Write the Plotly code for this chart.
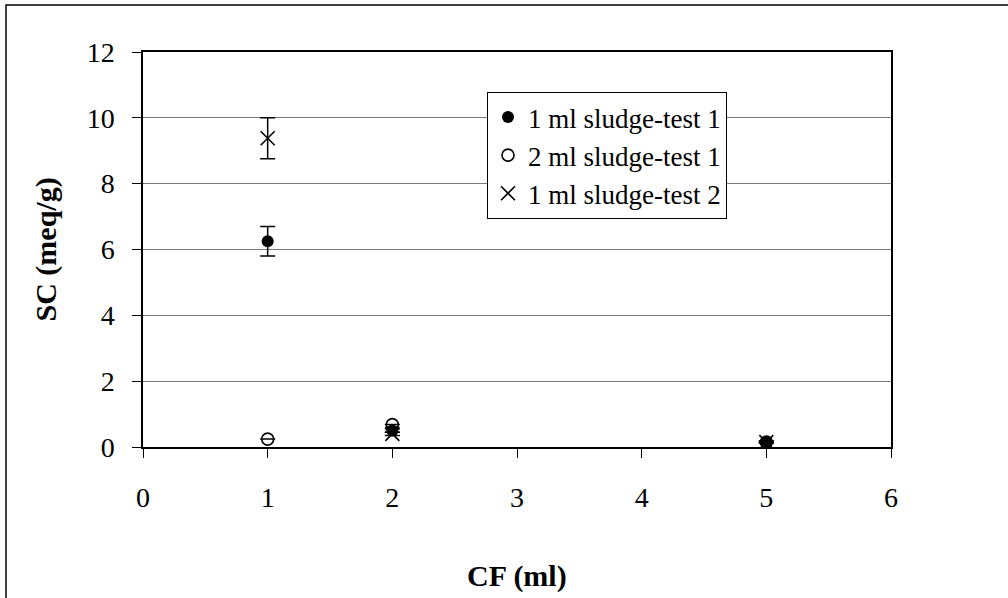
import plotly.graph_objects as go

# Sorption capacity versus conditioning fluid volume
cf_ml = [1, 2, 5]

sc_1ml_test1 = [6.25, 0.50, 0.15]
err_1ml_test1 = [0.45, 0.05, 0.03]

sc_2ml_test1 = [0.24, 0.68, 0.15]
err_2ml_test1 = [0.0, 0.0, 0.0]

sc_1ml_test2 = [9.38, 0.40, 0.15]
err_1ml_test2 = [0.62, 0.05, 0.03]

series_names = ["1 ml sludge-test 1", "2 ml sludge-test 1", "1 ml sludge-test 2"]

font_family = "Liberation Serif, Times New Roman, serif"

fig = go.Figure()

fig.add_trace(go.Scatter(
    x=cf_ml, y=sc_1ml_test1, mode="markers", name=series_names[0],
    legendgroup="a",
    marker=dict(symbol="circle", size=12, color="black"),
    error_y=dict(type="data", array=err_1ml_test1, color="black",
                 thickness=1.5, width=7.5),
))
fig.add_trace(go.Scatter(
    x=cf_ml, y=sc_2ml_test1, mode="markers", name=series_names[1],
    legendgroup="b",
    marker=dict(symbol="circle-open", size=12, color="black",
                line=dict(width=1.6, color="black")),
    error_y=dict(type="data", array=err_2ml_test1, color="black",
                 thickness=1.5, width=7.5),
))
fig.add_trace(go.Scatter(
    x=cf_ml, y=sc_1ml_test2, mode="markers", name=series_names[2],
    legendgroup="c",
    marker=dict(symbol="x-thin-open", size=14, color="black",
                line=dict(width=1.6, color="black")),
    error_y=dict(type="data", array=err_1ml_test2, color="black",
                 thickness=1.5, width=7.5),
))

axis_common = dict(
    showline=True, linecolor="black", linewidth=1.5, mirror=True,
    ticks="outside", ticklen=9, tickcolor="black", tickwidth=1,
    tickfont=dict(family=font_family, size=28, color="black"),
    zeroline=False,
)

fig.update_xaxes(range=[0, 6], dtick=1, showgrid=False,
                 ticklabelstandoff=16, **axis_common)
fig.update_yaxes(range=[0, 12], dtick=2, showgrid=True, gridcolor="#7a7a7a",
                 gridwidth=1, ticklabelstandoff=12, **axis_common)

fig.update_layout(
    width=1008, height=598,
    margin=dict(l=143, r=117, t=52, b=151),
    paper_bgcolor="white", plot_bgcolor="white",
    showlegend=True,
    legend=dict(
        x=(487 - 143) / 748, y=(447 - 92) / 395,
        xanchor="left", yanchor="top",
        bgcolor="white", bordercolor="black", borderwidth=1,
        font=dict(family=font_family, size=27, color="black"),
        traceorder="grouped", tracegroupgap=0,
        itemwidth=30,
    ),
    annotations=[
        dict(text="<b>CF (ml)</b>", x=0.5, xref="paper", xanchor="center",
             y=(447 - 576) / 395, yref="paper", yanchor="middle",
             showarrow=False,
             font=dict(family=font_family, size=30, color="black")),
        dict(text="<b>SC (meq/g)</b>", x=(45 - 143) / 748, xref="paper",
             xanchor="center", y=0.5, yref="paper", yanchor="middle",
             showarrow=False, textangle=-90,
             font=dict(family=font_family, size=30, color="black")),
    ],
    shapes=[
        dict(type="rect", xref="paper", yref="paper",
             x0=(6 - 143) / 748, x1=(1020 - 143) / 748,
             y0=(447 - 610) / 395, y1=(447 - 5) / 395,
             line=dict(color="black", width=1.5), fillcolor="rgba(0,0,0,0)",
             layer="below"),
    ],
)

fig.write_html("out.html")
